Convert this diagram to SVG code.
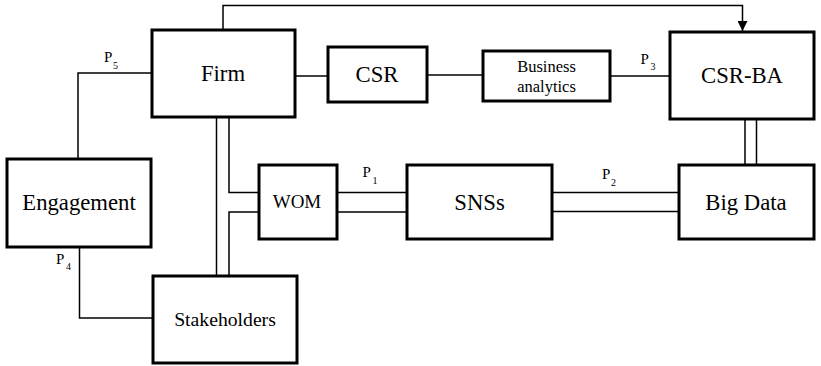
<svg xmlns="http://www.w3.org/2000/svg" width="821" height="366" viewBox="0 0 821 366">
<style>
.box{fill:#fff;stroke:#000;stroke-width:3}
.ln{fill:none;stroke:#000;stroke-width:1.5}
text{font-family:'Liberation Serif','Times New Roman',serif;fill:#000;text-anchor:middle}
.big{font-size:22.7px}
.p{font-size:15px;text-anchor:start}
.s{font-size:10px;text-anchor:start}
</style>
<defs>
<marker id="arr" markerWidth="10" markerHeight="10" refX="10" refY="5" orient="auto" markerUnits="userSpaceOnUse">
<path d="M0,0 L10,5 L0,10 Z" fill="#000"/>
</marker>
</defs>
<g id="connectors">
<path class="ln" d="M223,30 V5.5 H742.5 V31" marker-end="url(#arr)"/>
<path class="ln" d="M152,73 H78 V159"/>
<path class="ln" d="M295,76 H328"/>
<path class="ln" d="M427,75 H483"/>
<path class="ln" d="M610,76 H670"/>
<path class="ln" d="M745,119 V165 M756.5,119 V165"/>
<path class="ln" d="M552,192.5 H679 M552,211.5 H679"/>
<path class="ln" d="M337,192.5 H407 M337,212 H407"/>
<path class="ln" d="M216.5,117 V276"/>
<path class="ln" d="M229,117 V192.5 H259"/>
<path class="ln" d="M259,212 H229 V276"/>
<path class="ln" d="M79.5,247 V318 H153"/>
<text class="p" x="104" y="62">P</text><text class="s" x="113" y="68.5">5</text>
<text class="p" x="362.5" y="177">P</text><text class="s" x="372.5" y="184">1</text>
<text class="p" x="640.5" y="63.5">P</text><text class="s" x="650.5" y="70">3</text>
<text class="p" x="602" y="178.5">P</text><text class="s" x="611" y="185.5">2</text>
<text class="p" x="56" y="263.5">P</text><text class="s" x="66" y="270">4</text>
</g>
<g id="firm"><rect class="box" x="152" y="30" width="143" height="87"/><text class="big" x="223" y="81">Firm</text></g>
<g id="csr"><rect class="box" x="328" y="47" width="99" height="55"/><text class="big" x="377" y="82">CSR</text></g>
<g id="ba"><rect class="box" x="483" y="51" width="127" height="50"/><text x="546.5" y="71.5" style="font-size:16.5px">Business</text><text x="546.5" y="91.5" style="font-size:16.5px">analytics</text></g>
<g id="csrba"><rect class="box" x="670" y="32" width="144" height="87"/><text class="big" x="742" y="83">CSR-BA</text></g>
<g id="bigdata"><rect class="box" x="679" y="165" width="135" height="74"/><text class="big" x="746" y="209.5">Big Data</text></g>
<g id="snss"><rect class="box" x="407" y="165" width="145" height="74"/><text class="big" x="479.5" y="209.5">SNSs</text></g>
<g id="wom"><rect class="box" x="259" y="165" width="78" height="74"/><text x="297" y="208" style="font-size:19px">WOM</text></g>
<g id="engagement"><rect class="box" x="7" y="159" width="144" height="88"/><text class="big" x="79" y="210">Engagement</text></g>
<g id="stakeholders"><rect class="box" x="153" y="276" width="144" height="87"/><text x="225" y="326" style="font-size:19.7px">Stakeholders</text></g>
</svg>
